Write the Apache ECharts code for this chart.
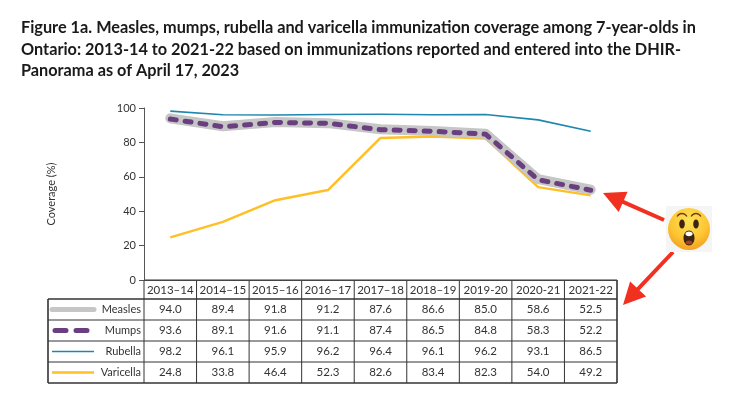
<!DOCTYPE html>
<html><head><meta charset="utf-8">
<script src="https://cdn.jsdelivr.net/npm/echarts@6/dist/echarts.min.js"></script>
<style>html,body{margin:0;padding:0;background:#fff}#c{width:744px;height:419px}</style>
</head><body><div id="c"></div>
<script>
const titleLines = [
  'Figure 1a. Measles, mumps, rubella and varicella immunization coverage among 7-year-olds in',
  'Ontario: 2013-14 to 2021-22 based on immunizations reported and entered into the DHIR-',
  'Panorama as of April 17, 2023'
];
const categories = ['2013–14','2014–15','2015–16','2016–17','2017–18','2018–19','2019-20','2020-21','2021-22'];
const seriesNames = ['Measles','Mumps','Rubella','Varicella'];
const measles   = [94.0, 89.4, 91.8, 91.2, 87.6, 86.6, 85.0, 58.6, 52.5];
const mumps     = [93.6, 89.1, 91.6, 91.1, 87.4, 86.5, 84.8, 58.3, 52.2];
const rubella   = [98.2, 96.1, 95.9, 96.2, 96.4, 96.1, 96.2, 93.1, 86.5];
const varicella = [24.8, 33.8, 46.4, 52.3, 82.6, 83.4, 82.3, 54.0, 49.2];
const yAxisName = 'Coverage (%)';

const FONT = 'Lato, "Open Sans", sans-serif';
const styles = {
  Measles:   {color:'#c6c6c6', width:10, type:'solid', cap:'round'},
  Mumps:     {color:'#6a3f80', width:5, type:[6,9], cap:'round'},
  Rubella:   {color:'#1f87ad', width:1.6, type:'solid', cap:'butt'},
  Varicella: {color:'#ffbf26', width:2.5, type:'solid', cap:'butt'}
};
const dataBy = {Measles:measles, Mumps:mumps, Rubella:rubella, Varicella:varicella};
const drawOrder = ['Varicella','Measles','Mumps','Rubella'];

const chart = echarts.init(document.getElementById('c'), null, {renderer:'canvas'});
chart.setOption({
  animation:false,
  title:{
    text: titleLines.join('\n'), left:16, top:12,
    textStyle:{fontFamily:FONT, fontWeight:'bold', fontSize:16.3, lineHeight:21.5, color:'#1a1a1a'}
  },
  grid:{left:144, right:127, top:108, bottom:139, containLabel:false},
  xAxis:{type:'category', data:categories, boundaryGap:true,
    axisLine:{show:true, lineStyle:{color:'#444', width:1}},
    axisTick:{show:false}, axisLabel:{show:false}, splitLine:{show:false}},
  yAxis:{type:'value', min:0, max:100, interval:20,
    name:yAxisName, nameLocation:'middle', nameGap:87, nameRotate:90,
    nameTextStyle:{fontFamily:FONT, fontSize:11, color:'#333'},
    axisLine:{show:true, lineStyle:{color:'#555', width:1}},
    axisTick:{show:true, length:5, lineStyle:{color:'#555'}},
    axisLabel:{fontFamily:FONT, fontSize:11, color:'#333', margin:8},
    splitLine:{show:false}},
  series: drawOrder.map((n,i)=>({
    name:n, type:'line', data:dataBy[n], symbol:'none', z:2+i,
    lineStyle:{color:styles[n].color, width:styles[n].width, type:styles[n].type, cap:styles[n].cap, join:'round'}
  }))
});

// Build data table under the axis
const g = [];
const x0 = chart.convertToPixel({xAxisIndex:0}, 0);
const x1 = chart.convertToPixel({xAxisIndex:0}, 1);
const band = x1 - x0;
const left = x0 - band/2;
const right = chart.convertToPixel({xAxisIndex:0}, categories.length-1) + band/2;
const yTop = chart.convertToPixel({yAxisIndex:0}, 0);
const headH = 19, rowH = 21;
const tableLeft = 48;
const bodyTop = yTop + headH;
const bodyBottom = bodyTop + rowH*seriesNames.length;
const bc = '#333';
const L = (a,b,c,d,w)=>g.push({type:'line', silent:true, shape:{x1:a,y1:b,x2:c,y2:d}, style:{stroke:bc, lineWidth:w||1}});
L(left, yTop, right, yTop);
for (let i=0;i<=categories.length;i++){ const x = left + i*band; L(x, yTop, x, bodyBottom, (i===categories.length)?1.6:1); }
L(tableLeft, bodyTop, tableLeft, bodyBottom, 1.6);
for (let r=0;r<=seriesNames.length;r++){ const y = bodyTop + r*rowH; L(tableLeft, y, right, y, (r===0||r===seriesNames.length)?1.6:1); }
categories.forEach((c,i)=>{
  g.push({type:'text', silent:true, style:{text:c, x:left+(i+0.5)*band, y:yTop+headH/2+0.5, align:'center', verticalAlign:'middle', font:'11.5px '+FONT, fill:'#333'}});
});
seriesNames.forEach((n,r)=>{
  const cy = bodyTop + (r+0.5)*rowH;
  const s = styles[n];
  const sw = (n==='Measles'||n==='Mumps')?5:s.width;
  g.push({type:'line', silent:true, shape:{x1:n==='Mumps'?55:52, y1:cy, x2:n==='Mumps'?92:94, y2:cy},
    style:{stroke:s.color, lineWidth:sw, lineCap:s.cap, lineDash: Array.isArray(s.type)?[11,10]:null}});
  g.push({type:'text', silent:true, style:{text:n, x:left-3, y:cy, align:'right', verticalAlign:'middle', font:'11px '+FONT, fill:'#333'}});
  dataBy[n].forEach((v,i)=>{
    g.push({type:'text', silent:true, style:{text:v.toFixed(1), x:left+(i+0.5)*band, y:cy, align:'center', verticalAlign:'middle', font:'11.5px '+FONT, fill:'#333'}});
  });
});

// Red arrows
function arrow(ax, ay, tx, ty){
  const dx = tx-ax, dy = ty-ay, len = Math.hypot(dx,dy), ux = dx/len, uy = dy/len;
  const hl = 22, hw = 11;
  const bx = tx-ux*hl, by = ty-uy*hl;
  g.push({type:'line', silent:true, shape:{x1:ax,y1:ay,x2:bx+ux*2,y2:by+uy*2}, style:{stroke:'#f2301f', lineWidth:4}});
  g.push({type:'polygon', silent:true, shape:{points:[[tx,ty],[bx-uy*hw,by+ux*hw],[bx+uy*hw,by-ux*hw]]}, style:{fill:'#f2301f'}});
}
arrow(664, 220, 603, 193);
arrow(673, 252, 623, 305);

// Astonished face emoji drawn as shapes
const ex = 689, ey = 229;
g.push({type:'rect', silent:true, shape:{x:ex-23, y:ey-23, width:46, height:46}, style:{fill:'#f5f5f5'}});
g.push({type:'circle', silent:true, shape:{cx:ex, cy:ey, r:21},
  style:{fill:{type:'radial', x:0.5, y:0.3, r:0.75, colorStops:[{offset:0,color:'#ffe356'},{offset:0.6,color:'#fcc533'},{offset:1,color:'#f39a1c'}]}}});
[-7,7].forEach(d=>{
  g.push({type:'arc', silent:true, shape:{cx:ex+d, cy:ey-10, r:5.5, startAngle:Math.PI*1.15, endAngle:Math.PI*1.85}, style:{stroke:'#6b3d1a', lineWidth:1.4, fill:null}});
  g.push({type:'ellipse', silent:true, shape:{cx:ex+d, cy:ey-5, rx:2.8, ry:4.6}, style:{fill:'#3f2511'}});
});
g.push({type:'ellipse', silent:true, shape:{cx:ex, cy:ey+9, rx:5.5, ry:7.5}, style:{fill:'#3f2511'}});
g.push({type:'ellipse', silent:true, shape:{cx:ex, cy:ey+4.8, rx:3.6, ry:2.4}, style:{fill:'#ffffff'}});
g.push({type:'ellipse', silent:true, shape:{cx:ex, cy:ey+13.5, rx:3.2, ry:2}, style:{fill:'#a3412a'}});

chart.setOption({graphic: g});
</script></body></html>
